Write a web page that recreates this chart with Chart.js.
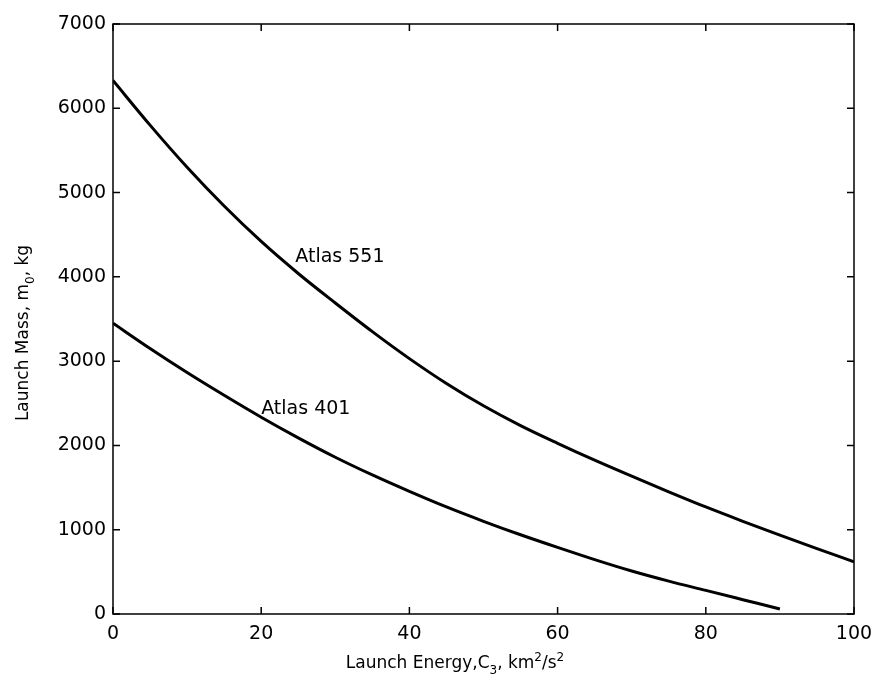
<!DOCTYPE html>
<html>
<head>
<meta charset="utf-8">
<script src="https://cdn.jsdelivr.net/npm/chart.js@4"></script>
<style>
  html, body { margin: 0; padding: 0; background: #ffffff; }
  #wrap { width: 874px; height: 689px; }
</style>
</head>
<body>
<div id="wrap"><canvas id="c" width="874" height="689"></canvas></div>
<script>
// ---- data ----
const c3Atlas551 = [0, 5, 10, 15, 20, 25, 30, 35, 40, 45, 50, 55, 60, 65, 70, 75, 80, 85, 90, 95, 100];
const massAtlas551 = [6330, 5800, 5300, 4840, 4420, 4040, 3690, 3350, 3030, 2735, 2470, 2235, 2025, 1825, 1635, 1450, 1270, 1100, 935, 775, 620];
const c3Atlas401 = [0, 5, 10, 15, 20, 25, 30, 35, 40, 45, 50, 55, 60, 65, 70, 75, 80, 85, 90];
const massAtlas401 = [3450, 3150, 2865, 2595, 2335, 2090, 1860, 1650, 1455, 1270, 1100, 940, 790, 645, 510, 390, 280, 170, 60];
const xTickValues = [0, 20, 40, 60, 80, 100];
const yTickValues = [0, 1000, 2000, 3000, 4000, 5000, 6000, 7000];
const curveLabels = [
  { text: 'Atlas 551', x: 24.6, y: 4235 },
  { text: 'Atlas 401', x: 20.0, y: 2432 }
];

const FONT = '"DejaVu Sans", "Liberation Sans", Arial, sans-serif';

function toPoints(xs, ys) { return xs.map((v, i) => ({ x: v, y: ys[i] })); }

const framePlugin = {
  id: 'frame',
  afterDatasetsDraw(chart) {
    const { ctx, chartArea: a, scales: { x, y } } = chart;
    ctx.save();
    ctx.strokeStyle = '#000';
    ctx.lineWidth = 1.5;
    ctx.strokeRect(a.left, a.top, a.right - a.left, a.bottom - a.top);
    const tl = 7;
    ctx.beginPath();
    xTickValues.forEach(v => {
      const px = x.getPixelForValue(v);
      ctx.moveTo(px, a.bottom); ctx.lineTo(px, a.bottom - tl);
      ctx.moveTo(px, a.top); ctx.lineTo(px, a.top + tl);
    });
    yTickValues.forEach(v => {
      const py = y.getPixelForValue(v);
      ctx.moveTo(a.left, py); ctx.lineTo(a.left + tl, py);
      ctx.moveTo(a.right, py); ctx.lineTo(a.right - tl, py);
    });
    ctx.stroke();

    // curve labels
    ctx.fillStyle = '#000';
    ctx.font = '19px ' + FONT;
    ctx.textAlign = 'left';
    ctx.textBaseline = 'middle';
    curveLabels.forEach(l => {
      ctx.fillText(l.text, x.getPixelForValue(l.x), y.getPixelForValue(l.y));
    });

    // x axis title with sub/superscripts
    const big = '17px ' + FONT, small = '12px ' + FONT;
    const xParts = [
      { t: 'Launch Energy,C', f: big, dy: 0 },
      { t: '3', f: small, dy: 6 },
      { t: ', km', f: big, dy: 0 },
      { t: '2', f: small, dy: -7 },
      { t: '/s', f: big, dy: 0 },
      { t: '2', f: small, dy: -7 }
    ];
    function widthOf(parts) {
      let w = 0;
      parts.forEach(p => { ctx.font = p.f; w += ctx.measureText(p.t).width; });
      return w;
    }
    ctx.textBaseline = 'alphabetic';
    let w = widthOf(xParts);
    let cx = 455 - w / 2;
    const baseY = 668;
    xParts.forEach(p => {
      ctx.font = p.f;
      ctx.fillText(p.t, cx, baseY + p.dy);
      cx += ctx.measureText(p.t).width;
    });

    // y axis title (rotated)
    const yParts = [
      { t: 'Launch Mass, m', f: big, dy: 0 },
      { t: '0', f: small, dy: 6 },
      { t: ', kg', f: big, dy: 0 }
    ];
    w = widthOf(yParts);
    ctx.translate(28, (a.top + a.bottom) / 2 + 14);
    ctx.rotate(-Math.PI / 2);
    cx = -w / 2;
    yParts.forEach(p => {
      ctx.font = p.f;
      ctx.fillText(p.t, cx, 0 + p.dy);
      cx += ctx.measureText(p.t).width;
    });
    ctx.restore();
  }
};

new Chart(document.getElementById('c'), {
  type: 'line',
  data: {
    datasets: [
      {
        label: 'Atlas 551',
        data: toPoints(c3Atlas551, massAtlas551),
        borderColor: '#000',
        borderWidth: 3,
        pointRadius: 0,
        cubicInterpolationMode: 'monotone',
        fill: false
      },
      {
        label: 'Atlas 401',
        data: toPoints(c3Atlas401, massAtlas401),
        borderColor: '#000',
        borderWidth: 3,
        pointRadius: 0,
        cubicInterpolationMode: 'monotone',
        fill: false
      }
    ]
  },
  options: {
    responsive: false,
    animation: false,
    layout: { padding: { left: 0, right: 20, top: 24, bottom: 0 } },
    plugins: { legend: { display: false }, tooltip: { enabled: false } },
    scales: {
      x: {
        type: 'linear',
        min: 0, max: 100,
        afterBuildTicks: s => { s.ticks = xTickValues.map(v => ({ value: v })); },
        afterFit: s => { s.height = 75; s.paddingLeft = 0; s.paddingRight = 0; },
        grid: { display: false, drawTicks: false },
        border: { display: false },
        ticks: { color: '#000', padding: 9, font: { size: 19, family: FONT }, callback: v => String(v) }
      },
      y: {
        min: 0, max: 7000,
        afterBuildTicks: s => { s.ticks = yTickValues.map(v => ({ value: v })); },
        afterFit: s => { s.width = 113; s.paddingTop = 0; s.paddingBottom = 0; },
        grid: { display: false, drawTicks: false },
        border: { display: false },
        ticks: { color: '#000', padding: 7, font: { size: 19, family: FONT }, callback: v => String(v) }
      }
    }
  },
  plugins: [framePlugin]
});
</script>
</body>
</html>
